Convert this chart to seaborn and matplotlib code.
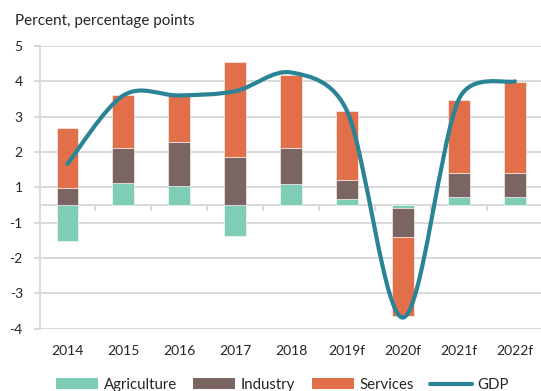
import numpy as np
import matplotlib
matplotlib.use("Agg")
import matplotlib.pyplot as plt
import seaborn as sns
from matplotlib.path import Path
from matplotlib.patches import PathPatch, Patch
from matplotlib.lines import Line2D

# Contributions to real GDP growth by sector (percentage points) and GDP growth (percent)
years = ["2014", "2015", "2016", "2017", "2018", "2019f", "2020f", "2021f", "2022f"]
agriculture = [-1.03, 0.63, 0.54, -0.89, 0.59, 0.17, -0.10, 0.21, 0.21]
industry = [0.49, 0.99, 1.25, 1.35, 1.02, 0.54, -0.80, 0.68, 0.68]
services = [1.69, 1.49, 1.28, 2.71, 2.07, 1.94, -2.26, 2.09, 2.60]
gdp = [1.16, 3.10, 3.10, 3.22, 3.75, 2.65, -3.19, 3.00, 3.50]

# Value axis: gridlines every 1.0 from -3.5 to 4.5, labelled with whole numbers
ytick_values = [-3.5, -2.5, -1.5, -0.5, 0.5, 1.5, 2.5, 3.5, 4.5]
ytick_labels = ["-4", "-3", "-2", "-1", "1", "2", "3", "4", "5"]

series_names = ["Agriculture", "Industry", "Services"]
series_colors = ["#80CDB7", "#7A6562", "#E1704A"]
gdp_color = "#2A8496"
grid_color = "#D9D9D9"
text_color = "#262626"

sns.set_theme(style="white")
plt.rcParams["font.family"] = ["Lato", "DejaVu Sans"]
plt.rcParams["text.color"] = text_color

W, H = 541, 391
fig = plt.figure(figsize=(W / 100, H / 100), dpi=100)
ax = fig.add_axes([39.5 / W, (H - 328.5) / H, 503.4 / W, 282.5 / H])

# Stacked bars: positive parts stack upward from zero, negative parts downward
n = len(years)
pos_base = np.zeros(n)
neg_base = np.zeros(n)
for vals, color in zip([agriculture, industry, services], series_colors):
    v = np.asarray(vals, dtype=float)
    bottom = np.where(v >= 0, pos_base, neg_base)
    sns.barplot(x=years, y=v, order=years, bottom=bottom, color=color,
                saturation=1, width=0.39, errorbar=None, ax=ax,
                edgecolor="white", linewidth=0.4, zorder=2)
    pos_base += np.where(v >= 0, v, 0)
    neg_base += np.where(v < 0, v, 0)

ax.set_xlim(-0.5, n - 0.5)
ax.set_ylim(ytick_values[0], ytick_values[-1])

# Value axis styling
ax.set_yticks(ytick_values)
ax.set_yticklabels(ytick_labels)
ax.yaxis.grid(True, color=grid_color, linewidth=1.4)
ax.xaxis.grid(False)
ax.set_axisbelow(True)
for side in ["top", "right", "bottom"]:
    ax.spines[side].set_visible(False)
ax.spines["left"].set_color(grid_color)
ax.spines["left"].set_linewidth(1.4)
ax.tick_params(axis="y", left=True, length=4, width=1.4, color=grid_color,
               pad=8, labelsize=10, labelcolor=text_color)

# Category labels sit below the plot area
ax.set_xticks(range(n))
ax.set_xticklabels(years)
ax.tick_params(axis="x", bottom=False, length=0, pad=12, labelsize=10,
               labelcolor=text_color)
ax.set_xlabel("")
ax.set_ylabel("")

# Horizontal category axis crossing at zero, with tick marks between categories
y0, y1 = ax.get_ylim()
zero_axis = ax.secondary_xaxis((0 - y0) / (y1 - y0))
zero_axis.set_xticks(np.arange(n + 1) - 0.5)
zero_axis.set_xticklabels([""] * (n + 1))
zero_axis.tick_params(direction="out", length=4, width=1.4, color=grid_color)
for s in zero_axis.spines.values():
    s.set_color(grid_color)
    s.set_linewidth(1.4)


def smoothed_path(xs, ys):
    """Bezier path through the points, with control arms limited to half a segment."""
    pts = ax.transData.transform(np.column_stack([xs, ys]))
    m = len(pts)
    verts = [pts[0]]
    codes = [Path.MOVETO]
    for i in range(m - 1):
        p0 = pts[i - 1] if i > 0 else pts[i]
        p1 = pts[i]
        p2 = pts[i + 1]
        p3 = pts[i + 2] if i + 2 < m else pts[i + 1]
        seg = np.linalg.norm(p2 - p1)
        d1 = p2 - p0
        d2 = p3 - p1
        n1 = np.linalg.norm(d1)
        n2 = np.linalg.norm(d2)
        f1 = min(1 / 6, seg / (2 * n1)) if n1 > 0 else 0
        f2 = min(1 / 6, seg / (2 * n2)) if n2 > 0 else 0
        verts += [p1 + d1 * f1, p2 - d2 * f2, p2]
        codes += [Path.CURVE4] * 3
    data_verts = ax.transData.inverted().transform(np.array(verts))
    return Path(data_verts, codes)


gdp_line = PathPatch(smoothed_path(np.arange(n), gdp), fill=False,
                     edgecolor=gdp_color, linewidth=3, capstyle="round",
                     joinstyle="round", zorder=4)
ax.add_patch(gdp_line)

# Title
fig.text(15 / W, (H - 25) / H, "Percent, percentage points", fontsize=11,
         ha="left", va="baseline", color=text_color)

# Legend
handles = [Patch(facecolor=c, edgecolor="none") for c in series_colors]
handles.append(Line2D([], [], color=gdp_color, linewidth=3))
fig.legend(handles, series_names + ["GDP"], loc="center",
           bbox_to_anchor=(282.5 / W, 6 / H), ncol=4, frameon=False,
           fontsize=10.8, handlelength=2.8, handleheight=0.72,
           handletextpad=0.36, columnspacing=1.1, borderpad=0,
           labelcolor=text_color)

fig.savefig("out.png", dpi=100)
